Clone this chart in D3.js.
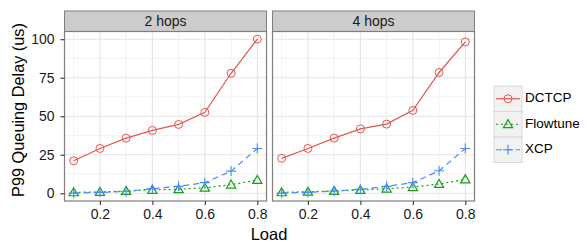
<!DOCTYPE html>
<html>
<head>
<meta charset="utf-8">
<script src="https://cdn.jsdelivr.net/npm/d3@7"></script>
<style>
  body { margin: 0; background: #fff; }
  text { font-family: "Liberation Sans", Arial, sans-serif; }
</style>
</head>
<body>
<svg id="chart" width="586" height="244"></svg>
<script>
const loads = [0.1, 0.2, 0.3, 0.4, 0.5, 0.6, 0.7, 0.8];
const panels = ["2 hops", "4 hops"];
const seriesNames = ["DCTCP", "Flowtune", "XCP"];

// values per panel, per series (P99 queuing delay, us)
const dctcp2 = [21.1, 29.1, 35.8, 40.8, 44.7, 52.5, 77.9, 100];
const flowtune2 = [0.6, 0.9, 1.5, 2.2, 2.6, 3.6, 5.6, 8.6];
const xcp2 = [0.1, 0.6, 1.2, 3.0, 4.5, 6.9, 14.4, 29.1];
const dctcp4 = [22.7, 29.1, 35.8, 41.8, 44.9, 53.8, 78.4, 98.2];
const flowtune4 = [0.6, 1.0, 1.5, 2.1, 3.0, 4.0, 6.0, 9.0];
const xcp4 = [0.1, 0.6, 1.5, 2.6, 4.5, 6.9, 14.6, 29.1];

const xTicks = [0.2, 0.4, 0.6, 0.8];
const yTicks = [0, 25, 50, 75, 100];

const data = {
    "2 hops": { DCTCP: dctcp2, Flowtune: flowtune2, XCP: xcp2 },
    "4 hops": { DCTCP: dctcp4, Flowtune: flowtune4, XCP: xcp4 }
};

const color = d3.scaleOrdinal()
    .domain(seriesNames)
    .range(["#E5574C", "#13A013", "#4A8DF6"]);
const dash = { DCTCP: null, Flowtune: "2,3", XCP: "6,4" };

const svg = d3.select("#chart");
const panelTop = 31.5, panelBottom = 201;
const panelLefts = [64.5, 272.5];
const panelWidth = 202;
const stripH = 20.5;

const xScale = d3.scaleLinear().domain([0.065, 0.835]).range([0, panelWidth]);
const yScale = d3.scaleLinear().domain([-5, 105]).range([panelBottom, panelTop]);

const line = d3.line().x(d => xScale(d.x)).y(d => yScale(d.y));

function drawSymbol(sel, name, c) {
    if (name === "DCTCP") {
        sel.append("circle").attr("r", 4).attr("fill", "none")
            .attr("stroke", c).attr("stroke-width", 1);
    } else if (name === "Flowtune") {
        sel.append("path").attr("d", "M0,-4.6L4.6,3.4L-4.6,3.4Z")
            .attr("fill", "none").attr("stroke", c).attr("stroke-width", 1.2);
    } else {
        sel.append("path").attr("d", "M-5,0H5M0,-5V5")
            .attr("stroke", c).attr("stroke-width", 1.1);
    }
}

panels.forEach((p, i) => {
    const g = svg.append("g").attr("transform", `translate(${panelLefts[i]},0)`);

    // strip
    g.append("rect").attr("x", 0).attr("y", panelTop - stripH)
        .attr("width", panelWidth).attr("height", stripH)
        .attr("fill", "#cccccc").attr("stroke", "#7f7f7f").attr("stroke-width", 1);
    g.append("text").attr("x", panelWidth / 2).attr("y", panelTop - stripH / 2 + 1)
        .attr("text-anchor", "middle").attr("dominant-baseline", "middle")
        .attr("font-size", 14).attr("fill", "#1a1a1a").text(p);

    // grid
    const minorX = d3.range(0.1, 0.85, 0.1).filter(v => !xTicks.some(t => Math.abs(t - v) < 1e-6));
    const minorY = [12.5, 37.5, 62.5, 87.5];
    g.selectAll(".minx").data(minorX).enter().append("line")
        .attr("x1", d => xScale(d)).attr("x2", d => xScale(d))
        .attr("y1", panelTop).attr("y2", panelBottom)
        .attr("stroke", "#f2f2f2").attr("stroke-width", 1);
    g.selectAll(".miny").data(minorY).enter().append("line")
        .attr("x1", 0).attr("x2", panelWidth)
        .attr("y1", d => yScale(d)).attr("y2", d => yScale(d))
        .attr("stroke", "#f2f2f2").attr("stroke-width", 1);
    g.selectAll(".majx").data(xTicks).enter().append("line")
        .attr("x1", d => xScale(d)).attr("x2", d => xScale(d))
        .attr("y1", panelTop).attr("y2", panelBottom)
        .attr("stroke", "#e5e5e5").attr("stroke-width", 1.1);
    g.selectAll(".majy").data(yTicks).enter().append("line")
        .attr("x1", 0).attr("x2", panelWidth)
        .attr("y1", d => yScale(d)).attr("y2", d => yScale(d))
        .attr("stroke", "#e5e5e5").attr("stroke-width", 1.1);

    // series
    seriesNames.forEach(name => {
        const pts = loads.map((x, k) => ({ x, y: data[p][name][k] }));
        const c = color(name);
        g.append("path").datum(pts).attr("d", line)
            .attr("fill", "none").attr("stroke", c).attr("stroke-width", 1.2)
            .attr("stroke-dasharray", dash[name]);
        pts.forEach(d => {
            const s = g.append("g").attr("transform", `translate(${xScale(d.x)},${yScale(d.y)})`);
            drawSymbol(s, name, c);
        });
    });

    // border
    g.append("rect").attr("x", 0).attr("y", panelTop)
        .attr("width", panelWidth).attr("height", panelBottom - panelTop)
        .attr("fill", "none").attr("stroke", "#7f7f7f").attr("stroke-width", 1.2);

    // x axis
    const xa = g.append("g").attr("transform", `translate(0,${panelBottom})`)
        .call(d3.axisBottom(xScale).tickValues(xTicks).tickSize(4).tickPadding(4).tickFormat(d3.format(".1f")));
    xa.select(".domain").remove();
    xa.selectAll("line").attr("stroke", "#333").attr("stroke-width", 1.1);
    xa.selectAll("text").attr("font-size", 14).attr("fill", "#1a1a1a")
        .style("font-family", "Liberation Sans, Arial, sans-serif");

    if (i === 0) {
        const ya = g.append("g")
            .call(d3.axisLeft(yScale).tickValues(yTicks).tickSize(4).tickPadding(6));
        ya.select(".domain").remove();
        ya.selectAll("line").attr("stroke", "#333").attr("stroke-width", 1.1);
        ya.selectAll("text").attr("font-size", 14).attr("fill", "#1a1a1a")
            .style("font-family", "Liberation Sans, Arial, sans-serif");
    }
});

// axis titles
svg.append("text").attr("x", 269).attr("y", 240)
    .attr("text-anchor", "middle").attr("font-size", 16.5).attr("fill", "#000").text("Load");
svg.append("text").attr("transform", "translate(24,110) rotate(-90)")
    .attr("text-anchor", "middle").attr("font-size", 16.3).attr("fill", "#000")
    .text("P99 Queuing Delay (us)");

// legend
const legend = svg.append("g").attr("transform", "translate(494,86)");
const keyH = 25.5, keyW = 28;
seriesNames.forEach((name, i) => {
    const c = color(name);
    const k = legend.append("g").attr("transform", `translate(0,${i * keyH})`);
    k.append("rect").attr("width", keyW).attr("height", keyH)
        .attr("fill", "#f2f2f2").attr("stroke", "#d9d9d9").attr("stroke-width", 1);
    k.append("line").attr("x1", 2).attr("x2", keyW - 2)
        .attr("y1", keyH / 2).attr("y2", keyH / 2)
        .attr("stroke", c).attr("stroke-width", 1.2).attr("stroke-dasharray", dash[name]);
    const s = k.append("g").attr("transform", `translate(${keyW / 2},${keyH / 2})`);
    drawSymbol(s, name, c);
    k.append("text").attr("x", keyW + 3).attr("y", keyH / 2)
        .attr("dominant-baseline", "middle").attr("font-size", 13.5).attr("fill", "#000").text(name);
});
</script>
</body>
</html>
